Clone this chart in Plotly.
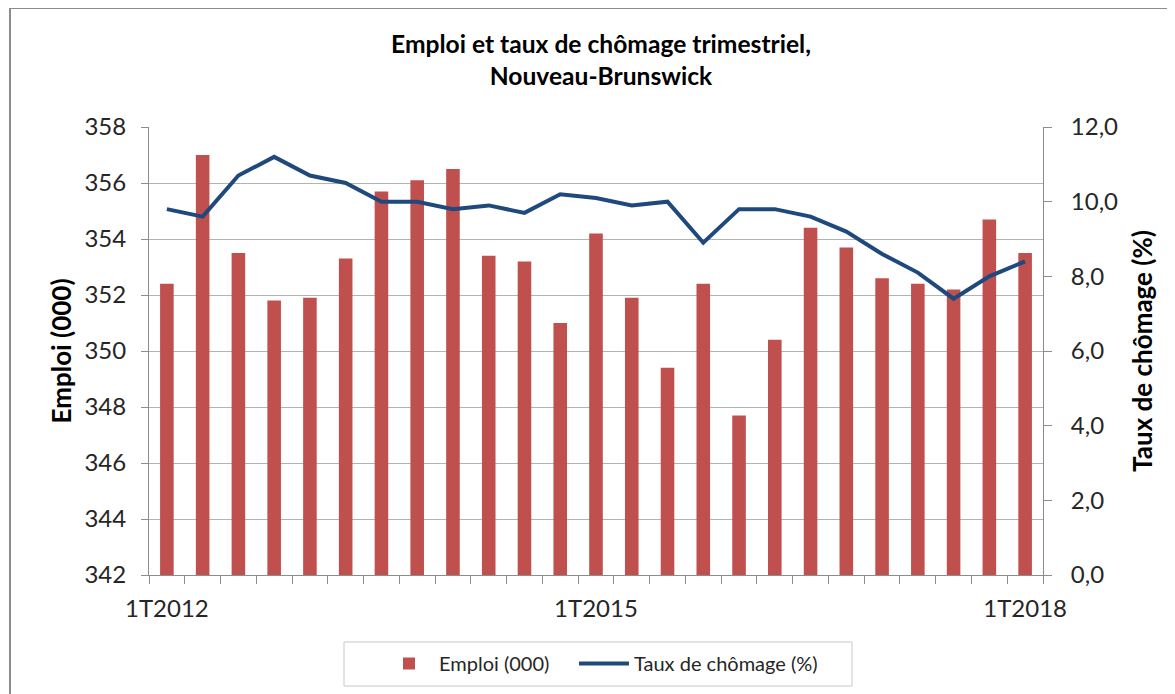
import plotly.graph_objects as go

quarters = [
    "1T2012", "2T2012", "3T2012", "4T2012",
    "1T2013", "2T2013", "3T2013", "4T2013",
    "1T2014", "2T2014", "3T2014", "4T2014",
    "1T2015", "2T2015", "3T2015", "4T2015",
    "1T2016", "2T2016", "3T2016", "4T2016",
    "1T2017", "2T2017", "3T2017", "4T2017",
    "1T2018",
]
emploi = [
    352.4, 357.0, 353.5, 351.8,
    351.9, 353.3, 355.7, 356.1,
    356.5, 353.4, 353.2, 351.0,
    354.2, 351.9, 349.4, 352.4,
    347.7, 350.4, 354.4, 353.7,
    352.6, 352.4, 352.2, 354.7,
    353.5,
]
chomage = [
    9.8, 9.6, 10.7, 11.2,
    10.7, 10.5, 10.0, 10.0,
    9.8, 9.9, 9.7, 10.2,
    10.1, 9.9, 10.0, 8.9,
    9.8, 9.8, 9.6, 9.2,
    8.6, 8.1, 7.4, 8.0,
    8.4,
]
shown_labels = ["1T2012", "1T2015", "1T2018"]

FONT = "Lato"
GRAY = "#8c8c8c"
TXT = "#262626"

# figure is placed by the page at an 8px offset (body margin)
W, H = 1167, 686
L, T, R, B = 141, 119, 132, 119
PW, PH = W - L - R, H - T - B


def px(xp):
    return (xp - 8 - L) / PW


def py(yp):
    return (H - B - (yp - 8)) / PH


fig = go.Figure()
fig.add_trace(go.Bar(
    x=quarters, y=emploi, name="Emploi (000)",
    marker=dict(color="#C0504D", line=dict(width=0)),
    width=0.38, yaxis="y", legend="legend", showlegend=True,
))
fig.add_trace(go.Scatter(
    x=quarters, y=chomage, name="Taux de chômage (%)",
    mode="lines", line=dict(color="#1F497D", width=4),
    yaxis="y2", legend="legend2", showlegend=True,
))

legend_common = dict(
    orientation="h", xanchor="left", y=py(644), yanchor="top",
    borderwidth=0, bgcolor="rgba(0,0,0,0)",
    font=dict(size=20, color=TXT), itemwidth=50,
)

fig.update_layout(
    width=W, height=H, showlegend=True,
    paper_bgcolor="white", plot_bgcolor="white",
    margin=dict(l=L, r=R, t=T, b=B, autoexpand=False),
    separators=", ",
    font=dict(family=FONT, color=TXT, size=24),
    title=dict(
        text="<b>Emploi et taux de chômage trimestriel,<br>Nouveau-Brunswick</b>",
        x=593 / W, xanchor="center", y=1 - 45 / H, yanchor="top",
        font=dict(family=FONT, size=24.6, color="black"),
    ),
    xaxis=dict(
        type="category", automargin=False,
        tickmode="array", tickvals=quarters,
        ticktext=[q if q in shown_labels else "" for q in quarters],
        tickson="boundaries", ticks="outside", ticklen=8, tickangle=0,
        tickcolor=GRAY, showline=True, linecolor=GRAY, linewidth=1,
        showgrid=False, tickfont=dict(size=24, color=TXT),
        ticklabelstandoff=12,
    ),
    yaxis=dict(
        range=[342, 358], dtick=2, tick0=342, automargin=False,
        showgrid=True, gridcolor="#b3b3b3", gridwidth=1,
        showline=True, linecolor=GRAY, ticks="outside", ticklen=7,
        tickcolor=GRAY, zeroline=False,
        tickfont=dict(size=24, color=TXT),
        ticklabelstandoff=10,
        title=dict(text="<b>Emploi (000)</b>", font=dict(size=26, color="black"), standoff=5),
    ),
    yaxis2=dict(
        range=[0, 12], dtick=2, tick0=0, overlaying="y", side="right",
        automargin=False,
        showgrid=False, showline=True, linecolor=GRAY, ticks="outside",
        ticklen=8, tickcolor=GRAY, zeroline=False, tickformat=".1f",
        tickfont=dict(size=24, color=TXT),
        ticklabelstandoff=14,
        title=dict(text="<b>Taux de chômage (%)</b>", font=dict(size=26, color="black"), standoff=16),
    ),
    legend=dict(x=px(379), **legend_common),
    legend2=dict(x=px(574), **legend_common),
    shapes=[
        # outer chart border (left and top edges visible)
        dict(type="line", xref="paper", yref="paper",
             x0=px(10), x1=px(10), y0=py(720), y1=py(8),
             line=dict(color=GRAY, width=2)),
        dict(type="line", xref="paper", yref="paper",
             x0=px(10), x1=px(1200), y0=py(8), y1=py(8),
             line=dict(color=GRAY, width=2)),
        # legend frame
        dict(type="rect", xref="paper", yref="paper",
             x0=px(344), x1=px(852), y0=py(686), y1=py(642),
             line=dict(color="#c8c8c8", width=1)),
    ],
)

fig.write_html("out.html")
